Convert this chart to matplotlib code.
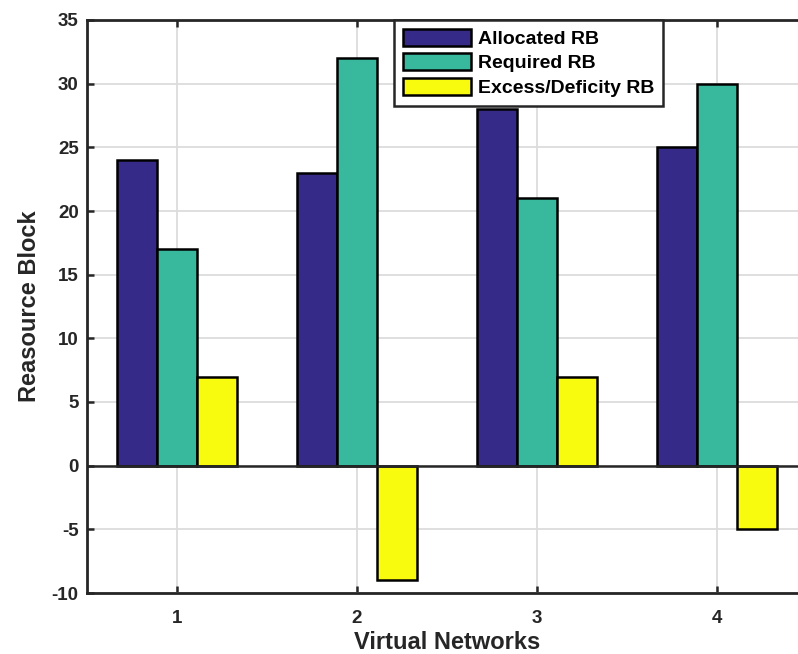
import matplotlib
matplotlib.use("Agg")
import matplotlib.pyplot as plt
import numpy as np

plt.rcParams['font.family'] = ['Liberation Sans', 'DejaVu Sans']
plt.rcParams['axes.unicode_minus'] = False

networks = [1, 2, 3, 4]
allocated = [24, 23, 28, 25]
required = [17, 32, 21, 30]
excess = [7, -9, 7, -5]
series_names = ['Allocated RB', 'Required RB', 'Excess/Deficity RB']
colors = ['#352a87', '#38b99e', '#f9fb0e']

fig = plt.figure(figsize=(7.98, 6.54), dpi=100)
ax = fig.add_axes([87/798, 1-593/654, 720/798, (593-20)/654])

x = np.array(networks, dtype=float)
w = 0.222
for i, (vals, name, c) in enumerate(zip([allocated, required, excess], series_names, colors)):
    ax.bar(x + (i-1)*w, vals, width=w, color=c, edgecolor='black', linewidth=1.8, label=name, zorder=3)

ax.axhline(0, color='#262626', linewidth=1.8, zorder=4)
ax.set_xlim(0.5, 4.5)
ax.set_ylim(-10, 35)
ax.set_xticks(networks)
ax.set_yticks(np.arange(-10, 36, 5))
ax.grid(True, color='#dcdcdc', linewidth=1.3, zorder=0)
ax.tick_params(direction='in', length=5, width=1.8, top=True, right=True, colors='#262626', labelsize=13.5)
ax.tick_params(axis='x', pad=12)
ax.tick_params(axis='y', pad=6)
for lab in ax.get_xticklabels() + ax.get_yticklabels():
    lab.set_fontweight('bold')
for s in ax.spines.values():
    s.set_linewidth(2.0)
    s.set_color('#262626')
ax.set_xlabel('Virtual Networks', fontsize=17, fontweight='bold', color='#262626', labelpad=3)
ax.set_ylabel('Reasource Block', fontsize=17, fontweight='bold', color='#262626', labelpad=8)

leg = ax.legend(loc='upper left', bbox_to_anchor=(394/798, 1-20/654), bbox_transform=fig.transFigure,
                fancybox=False, framealpha=1, edgecolor='#262626', prop={'weight': 'bold', 'size': 14},
                handlelength=3.5, handleheight=0.95, borderpad=0.45, labelspacing=0.28, handletextpad=0.35,
                borderaxespad=0)
leg.get_frame().set_linewidth(1.8)

fig.savefig('out.png', dpi=100)
